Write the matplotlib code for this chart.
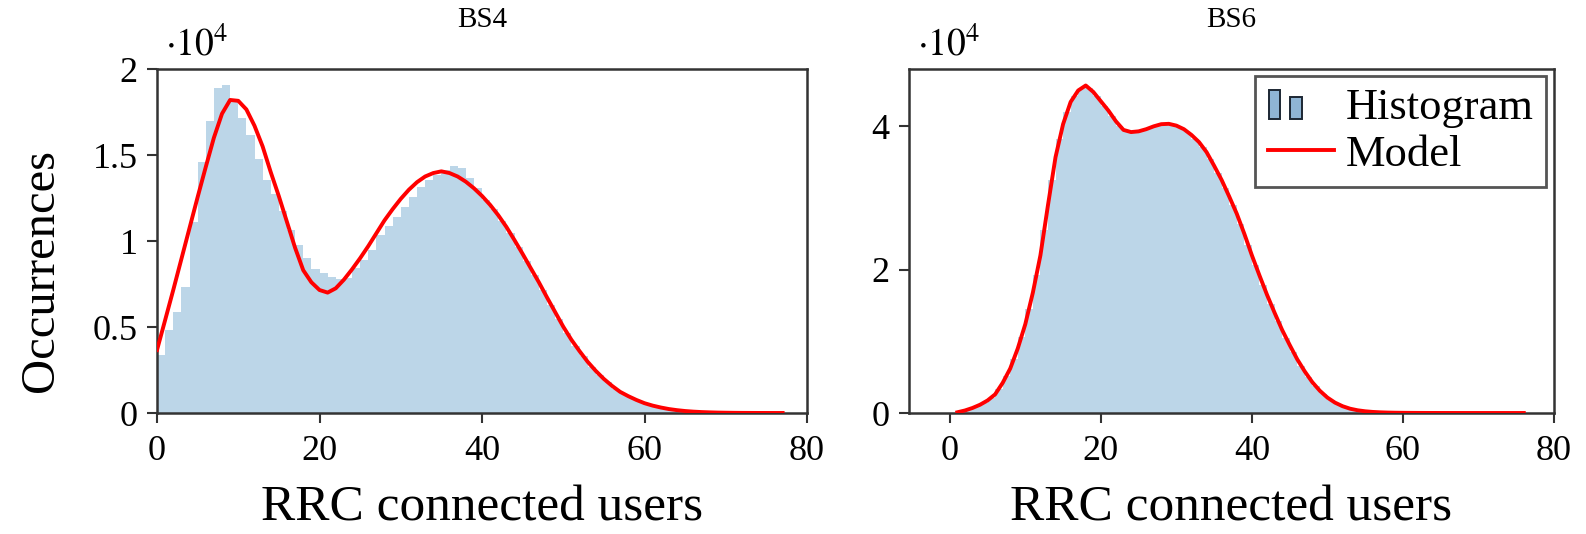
import numpy as np
import matplotlib
matplotlib.use("Agg")
import matplotlib.pyplot as plt
import matplotlib.ticker as ticker
from matplotlib.patches import Rectangle
from matplotlib.legend_handler import HandlerBase

# ── Data ──────────────────────────────────────────────────────────────────────

# BS4: histogram counts, one bin per user count (bin i covers [i, i+1))
bs4_counts = [
    3400, 4800, 5900, 7350, 11100, 14600, 17000, 18900, 19050, 18200,
    17150, 16150, 14750, 13550, 12750, 11750, 10650, 9750, 9000, 8350,
    8150, 7900, 7800, 7850, 8450, 8900, 9500, 10350, 10850, 11400,
    12000, 12550, 13150, 13550, 13850, 14150, 14350, 14250, 13650, 13100,
    12400, 11850, 11150, 10450, 9650, 8850, 8000, 7150, 6300, 5450,
    4650, 3900, 3300, 2700, 2200, 1780, 1400, 1100, 870, 660,
    500, 370, 270, 195, 140, 95, 65, 45, 30, 20,
    14, 9, 6, 4, 3, 2, 1,
]
# BS4: fitted model evaluated at x = 0 .. 77
bs4_model = [
    3660, 5400, 7150, 8950, 10750, 12550, 14300, 16000, 17400, 18200,
    18150, 17650, 16700, 15500, 14000, 12600, 11100, 9600, 8300, 7600,
    7150, 7000, 7250, 7750, 8350, 9000, 9700, 10450, 11200, 11850,
    12450, 12980, 13420, 13750, 13950, 14050, 13950, 13750, 13450, 13070,
    12620, 12100, 11500, 10820, 10050, 9250, 8420, 7600, 6720, 5870,
    5020, 4260, 3600, 2980, 2450, 1980, 1580, 1230, 980, 760,
    570, 430, 320, 230, 165, 115, 80, 55, 38, 25,
    17, 11, 7, 5, 3, 2, 1, 1,
]

# BS6: histogram counts, bins starting at 0
bs6_counts = [
    0, 200, 500, 900, 1400, 2100, 3300, 5100, 7500, 10600,
    14500, 19300, 25500, 32500, 38200, 42000, 44300, 45400, 45300, 44200,
    42900, 41500, 40100, 39400, 39300, 39500, 39800, 40200, 40400, 40300,
    39900, 39200, 38300, 37100, 35500, 33500, 31400, 29000, 26400, 23500,
    20600, 17800, 15200, 12800, 10500, 8500, 6600, 5000, 3700, 2600,
    1800, 1200, 780, 490, 310, 195, 120, 78, 50, 34,
    24, 17, 12, 9, 6, 4, 3, 2, 2, 1,
    1, 1, 1, 0, 0, 0,
]
# BS6: fitted model evaluated at x = 1 .. 76
bs6_model = [
    100, 350, 700, 1150, 1750, 2600, 4200, 6200, 9000, 12400,
    16800, 22000, 29000, 35700, 40300, 43400, 45000, 45700, 44800, 43500,
    42200, 40700, 39500, 39200, 39300, 39600, 40000, 40300, 40350, 40100,
    39600, 38800, 37800, 36400, 34500, 32500, 30200, 27800, 25000, 22000,
    19200, 16500, 14000, 11600, 9500, 7500, 5800, 4300, 3100, 2150,
    1450, 950, 600, 380, 240, 150, 95, 60, 40, 28,
    20, 14, 10, 7, 5, 4, 3, 2, 2, 1,
    1, 1, 1, 0, 0, 0,
]

X_TICKS = [0, 20, 40, 60, 80]

# ── Style ─────────────────────────────────────────────────────────────────────

SERIF     = ["Liberation Serif", "DejaVu Serif"]
BAR_COLOR = "#bcd6e8"
LINE_RED  = "#ff0000"
SPINE     = "#333333"

plt.rcParams["font.family"] = SERIF
plt.rcParams["mathtext.fontset"] = "stix"

W, H = 1586, 534


class TwoBarHandler(HandlerBase):
    """Legend key drawn as two small bars, like a ybar legend."""

    def create_artists(self, legend, orig_handle, xdescent, ydescent,
                       width, height, fontsize, trans):
        x0, y0 = -xdescent, -ydescent
        bw = width * 0.17
        kw = dict(facecolor="#8fb5d5", edgecolor="#1c2733", lw=1.4,
                  transform=trans)
        r1 = Rectangle((x0 + width * 0.02, y0), bw, height * 0.95, **kw)
        r2 = Rectangle((x0 + width * 0.34, y0), bw, height * 0.72, **kw)
        return [r1, r2]


def style_axes(ax, title):
    for s in ax.spines.values():
        s.set_color(SPINE)
        s.set_linewidth(1.8)
    ax.tick_params(direction="out", length=7, width=1.5, color=SPINE,
                   labelsize=26, top=False, right=False)
    ax.tick_params(axis="x", pad=9)
    ax.tick_params(axis="y", pad=7)
    ax.xaxis.set_major_locator(ticker.FixedLocator(X_TICKS))
    ax.yaxis.set_major_formatter(
        ticker.FuncFormatter(lambda v, p: f"{v / 1e4:g}"))
    ax.set_xlabel("RRC connected users", fontsize=37, labelpad=12)
    ax.set_title(title, fontsize=21, pad=30)
    ax.text(0.012, 1.015, r"$\cdot 10^4$", transform=ax.transAxes,
            fontsize=27, ha="left", va="bottom")


fig = plt.figure(figsize=(W / 100, H / 100), dpi=100)

ax1 = fig.add_axes([157 / W, 1 - 413 / H, (807 - 157) / W, (413 - 69) / H])
ax2 = fig.add_axes([909 / W, 1 - 413 / H, (1554 - 909) / W, (413 - 69) / H])

# ── BS4 ───────────────────────────────────────────────────────────────────────
edges4 = np.arange(len(bs4_counts))
ax1.bar(edges4, bs4_counts, width=1.0, align="edge", color=BAR_COLOR,
        edgecolor="none", zorder=1)
ax1.plot(np.arange(len(bs4_model)), bs4_model, color=LINE_RED, lw=2.8,
         zorder=3)
ax1.set_xlim(0, 80)
ax1.set_ylim(0, 20000)
ax1.yaxis.set_major_locator(ticker.MultipleLocator(5000))
ax1.set_ylabel("Occurrences", fontsize=35)
ax1.yaxis.set_label_coords(-0.145, 0.413)
style_axes(ax1, "BS4")

# ── BS6 ───────────────────────────────────────────────────────────────────────
edges6 = np.arange(len(bs6_counts))
hist = ax2.bar(edges6, bs6_counts, width=1.0, align="edge", color=BAR_COLOR,
               edgecolor="none", zorder=1, label="Histogram")
line, = ax2.plot(np.arange(1, len(bs6_model) + 1), bs6_model,
                 color=LINE_RED, lw=2.8, zorder=3, label="Model")
ax2.set_xlim(-5.4, 80)
ax2.set_ylim(0, 48000)
ax2.yaxis.set_major_locator(ticker.MultipleLocator(20000))
style_axes(ax2, "BS6")

leg = ax2.legend([hist, line], ["Histogram", "Model"],
                 handler_map={type(hist): TwoBarHandler()},
                 loc="upper right", bbox_to_anchor=(0.9875, 0.98),
                 fontsize=32, frameon=True, fancybox=False,
                 framealpha=1, borderpad=0.28, handlelength=1.5,
                 handletextpad=0.25, labelspacing=0.14, borderaxespad=0.0)
leg.get_frame().set_edgecolor("#555555")
leg.get_frame().set_linewidth(2.0)

fig.savefig("out.png", dpi=100)
